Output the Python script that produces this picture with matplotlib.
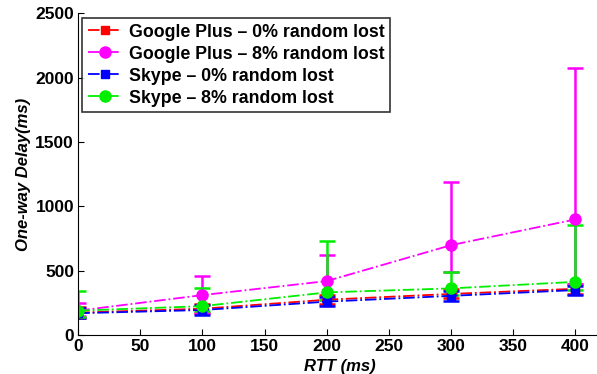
import matplotlib.pyplot as plt
import numpy as np

plt.rcParams['font.family'] = ['Liberation Sans', 'DejaVu Sans']
plt.rcParams['font.weight'] = 'bold'

rtt = [0, 100, 200, 300, 400]

# Google Plus - 0% random lost
gp0 = [175, 205, 275, 320, 360]
gp0_err = [40, 35, 35, 35, 40]
# Google Plus - 8% random lost
gp8 = [190, 311, 420, 699, 899]
gp8_lo = [40, 140, 150, 210, 500]
gp8_hi = [60, 150, 204, 492, 1178]
# Skype - 0% random lost
sk0 = [170, 195, 260, 305, 350]
sk0_err = [40, 40, 35, 40, 35]
# Skype - 8% random lost
sk8 = [190, 225, 332, 363, 414]
sk8_lo = [50, 40, 60, 50, 60]
sk8_hi = [154, 138, 398, 129, 441]

labels = ['Google Plus \u2013 0% random lost', 'Google Plus \u2013 8% random lost',
          'Skype \u2013 0% random lost', 'Skype \u2013 8% random lost']

fig = plt.figure(figsize=(5.97, 3.74), dpi=100)
ax = fig.add_axes([0.131, 0.104, 0.87, 0.86])

kw = dict(linestyle='-.', linewidth=1.3, capsize=6, elinewidth=1.8, capthick=1.8)
series = [
    (gp0, gp0_err, '#ff0000', 's', 6),
    (gp8, [gp8_lo, gp8_hi], '#ff00ff', 'o', 8),
    (sk0, sk0_err, '#0000ff', 's', 6),
    (sk8, [sk8_lo, sk8_hi], '#00ee00', 'o', 8),
]
handles = []
for y, err, col, mk, ms in series:
    c = ax.errorbar(rtt, y, yerr=err, color=col, marker=mk, markersize=ms, **kw)
    handles.append(c[0])

ax.set_xlim(0, 418)
ax.set_ylim(0, 2500)
ax.set_xticks(np.arange(0, 401, 50))
ax.set_yticks(np.arange(0, 2501, 500))
ax.tick_params(labelsize=12.5, direction='in', length=4, pad=3)
for lab in ax.get_xticklabels() + ax.get_yticklabels():
    lab.set_fontweight('bold')
ax.spines['top'].set_visible(False)
ax.spines['right'].set_visible(False)
ax.set_xlabel('RTT (ms)', fontsize=12, fontweight='bold', style='italic')
ax.xaxis.set_label_coords(0.504, -0.075)
ax.set_ylabel('One-way Delay(ms)', fontsize=12, fontweight='bold', style='italic', labelpad=3)

leg = ax.legend(handles, labels, loc='upper left', fontsize=12.8, frameon=True, fancybox=False,
                edgecolor='black', borderpad=0.3, labelspacing=0.28, handlelength=1.9,
                handletextpad=0.4, borderaxespad=0.0, bbox_to_anchor=(0.008, 0.985))
leg.get_frame().set_linewidth(1.2)
for t in leg.get_texts():
    t.set_fontweight('bold')

fig.savefig('out.png', dpi=100)
